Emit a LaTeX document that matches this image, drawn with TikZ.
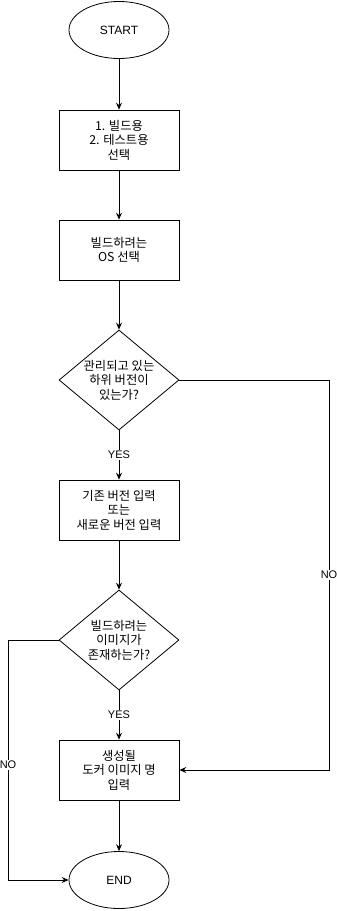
\documentclass[tikz,border=0pt]{standalone}
\usepackage{fontspec}
\setmainfont{Liberation Sans}
\newfontfamily\kr{Noto Sans CJK KR}
\usetikzlibrary{shapes.geometric,arrows.meta}
\begin{document}
\begin{tikzpicture}[x=1pt,y=-1pt,
 every node/.style={font=\fontsize{12}{14.5}\selectfont, align=center},
 term/.style={ellipse, draw, line width=0.8pt, minimum width=100pt, minimum height=57pt, inner sep=0pt},
 proc/.style={rectangle, draw, line width=0.8pt, minimum width=120pt, minimum height=60pt, inner sep=0pt},
 dec/.style={diamond, draw, line width=0.8pt, minimum width=120pt, minimum height=100pt, inner sep=0pt},
 krtext/.style={font=\kr\fontsize{12.3}{14.5}\selectfont},
 flow/.style={draw, line width=0.8pt, -{Stealth[length=7pt,width=6pt,inset=2.5pt]}},
 lbl/.style={fill=white, font=\fontsize{11}{13}\selectfont, inner sep=1pt}]
\useasboundingbox (0,0) rectangle (337,911);
\node[term] (start) at (119,30) {START};
\node[proc, krtext] (b1) at (119,140) {1. 빌드용\\2. 테스트용\\선택};
\node[proc, krtext] (b2) at (119,250) {빌드하려는\\OS 선택};
\node[dec] (d1) at (119,380) {};
\node[krtext] (d1t) at (d1) {관리되고 있는\\하위 버전이\\있는가?};
\node[proc, krtext] (b3) at (119,510) {기존 버전 입력\\또는\\새로운 버전 입력};
\node[dec] (d2) at (119,640) {};
\node[krtext] (d2t) at (d2) {빌드하려는\\이미지가\\존재하는가?};
\node[proc, krtext] (b4) at (119,770) {생성될\\도커 이미지 명\\입력};
\node[term] (end) at (119,880) {END};
\coordinate (r) at (329,380);
\coordinate (l) at (8,640);
\draw[flow] (start) -- (b1);
\draw[flow] (b1) -- (b2);
\draw[flow] (b2) -- (d1.north);
\draw[flow] (d1.south) -- node[lbl] {YES} (b3);
\draw[flow] (b3) -- (d2.north);
\draw[flow] (d2.south) -- node[lbl] {YES} (b4);
\draw[flow] (b4) -- (end);
\draw[flow] (d1.east) -- (r) |- node[lbl, pos=0.25] {NO} (b4.east);
\draw[flow] (d2.west) -- (l) |- node[lbl, pos=0.26] {NO} (end.west);
\end{tikzpicture}
\end{document}
